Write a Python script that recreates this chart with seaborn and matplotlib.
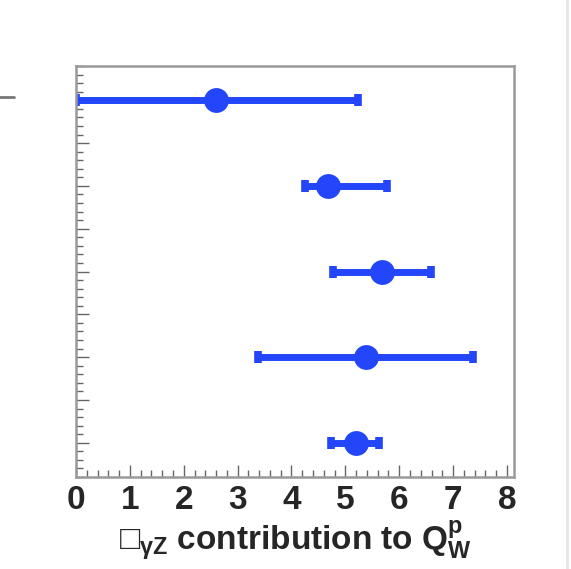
import numpy as np
import pandas as pd
import matplotlib
matplotlib.use("Agg")
import matplotlib.pyplot as plt
import seaborn as sns
from matplotlib.ticker import MultipleLocator
from matplotlib.lines import Line2D

# data (top row first)
rows = ["r1", "r2", "r3", "r4", "r5"]
central = [2.60, 4.68, 5.68, 5.38, 5.19]
low = [0.00, 4.25, 4.77, 3.38, 4.73]
high = [5.23, 5.77, 6.59, 7.37, 5.62]
xticks = [0, 1, 2, 3, 4, 5, 6, 7, 8]

sns.set_theme(style="white")
plt.rcParams["font.family"] = ["Liberation Sans", "DejaVu Sans"]
plt.rcParams["mathtext.fontset"] = "custom"
plt.rcParams["mathtext.rm"] = "Liberation Sans:bold"
plt.rcParams["mathtext.it"] = "Liberation Sans:bold"
plt.rcParams["mathtext.bf"] = "Liberation Sans:bold"

df = pd.DataFrame({"row": rows, "y": np.arange(len(rows)), "x": central,
                   "lo": low, "hi": high})

color = "#2346fa"
fig = plt.figure(figsize=(5.71, 5.69), dpi=100)
ax = fig.add_axes([76/571, 1-477/569, (514-76)/571, (477-66)/569])

xerr = np.vstack([df["x"] - df["lo"], df["hi"] - df["x"]])
ax.errorbar(df["x"], df["y"], xerr=xerr, fmt="none", ecolor=color,
            elinewidth=5, capsize=4.5, capthick=5.5, zorder=2)
sns.scatterplot(data=df, x="x", y="y", ax=ax, color=color, s=320,
                edgecolor=color, linewidth=0, zorder=3, legend=False)

ax.set_xlim(0, 8.13)
ax.set_ylim(4.4, -0.4)
ax.set_xticks(xticks)
ax.set_xticklabels([str(t) for t in xticks], fontsize=24, fontweight="bold")
ax.xaxis.set_minor_locator(MultipleLocator(0.2))
ax.yaxis.set_major_locator(MultipleLocator(0.5))
ax.yaxis.set_minor_locator(MultipleLocator(0.1))
ax.set_yticklabels([])
ax.tick_params(axis="x", which="major", direction="in", length=9, width=1,
               color="#666666", pad=6, bottom=True, top=False)
ax.tick_params(axis="x", which="minor", direction="in", length=5, width=1,
               color="#666666", bottom=True, top=False)
ax.tick_params(axis="y", which="major", direction="in", length=9, width=1,
               color="#666666", left=True, right=False, labelleft=False)
ax.tick_params(axis="y", which="minor", direction="in", length=5, width=1,
               color="#666666", left=True, right=False)
for s in ax.spines.values():
    s.set_color("#999999")
    s.set_linewidth(1.8)

ax.set_ylabel("")
ax.set_xlabel(r"□$_{\gamma Z}$ contribution to Q$_{W}^{p}$", fontsize=24,
              fontweight="bold", labelpad=2)

# edge artifacts of the reference
fig.add_artist(Line2D([0/571, 14/571], [1-97/569, 1-97/569], color="#777777", lw=2))
fig.add_artist(Line2D([567/571, 567/571], [0, 1], color="#e6e6e6", lw=2))

fig.savefig("out.png", dpi=100)
